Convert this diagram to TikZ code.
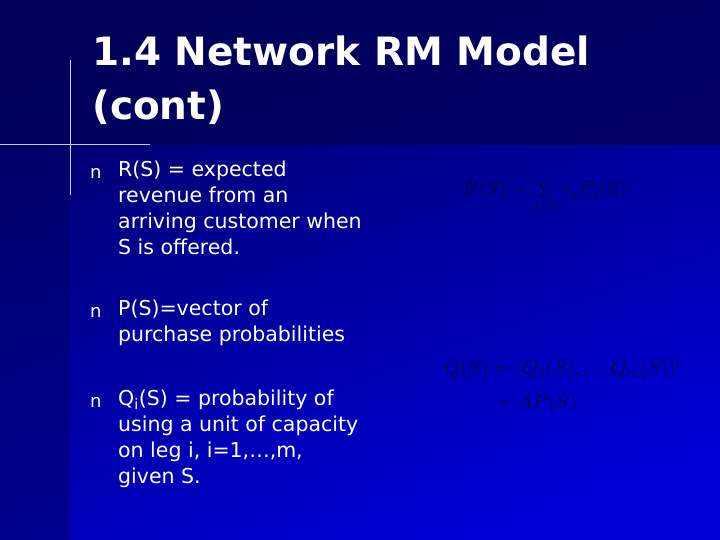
\documentclass[tikz,border=0pt]{standalone}
\usepackage{fontspec}
\setmainfont{DejaVu Sans}
\newfontfamily\tnr{Liberation Serif}
\begin{document}
\begin{tikzpicture}[x=1pt,y=-1pt,
  body/.style={anchor=north west,text=white,font=\fontsize{20.5}{26}\selectfont,align=left,inner sep=0},
  bul/.style={anchor=north west,text=white,font=\fontsize{18}{20}\selectfont,inner sep=0},
  eq/.style={anchor=north west,text=blue!25!black,font=\tnr\itshape\fontsize{21}{24}\selectfont,inner sep=0}]
\useasboundingbox (0,0) rectangle (720,540);
\shade[bottom color=blue!85!black, top color=blue!40!black, shading angle=20] (0,0) rectangle (720,540);
\fill[blue!35!black, opacity=0.8] (0,0) rectangle (720,145);
\fill[blue!40!black, opacity=0.5] (0,145) rectangle (70,540);
\draw[white!80!blue, line width=1] (0,145) -- (150,145);
\draw[white!80!blue, line width=1] (70,60) -- (70,195);
\node[anchor=north west,text=white,font=\bfseries\fontsize{39}{54}\selectfont,align=left,inner sep=0] (title) at (92,36) {1.4 Network RM Model\\(cont)};
\node[bul] (b1) at (90,168) {n};
\node[body] (t1) at (118,161) {R(S) = expected\\revenue from an\\arriving customer when\\S is offered.};
\node[bul] (b2) at (90,307) {n};
\node[body] (t2) at (118,300) {P(S)=vector of\\purchase probabilities};
\node[bul] (b3) at (90,397) {n};
\node[body] (t3) at (118,390) {Q\textsubscript{i}(S) = probability of\\using a unit of capacity\\on leg i, i=1,…,m,\\given S.};
\node[eq] (e1) at (462,180) {$R(S)=\displaystyle\sum_{j\in S} r_j P_j(S)$};
\node[eq] (e2) at (444,358) {$Q(S)=(Q_1(S),\ldots Q_m(S))^t$};
\node[eq] (e3) at (496,393) {$=AP(S)$};
\end{tikzpicture}
\end{document}
